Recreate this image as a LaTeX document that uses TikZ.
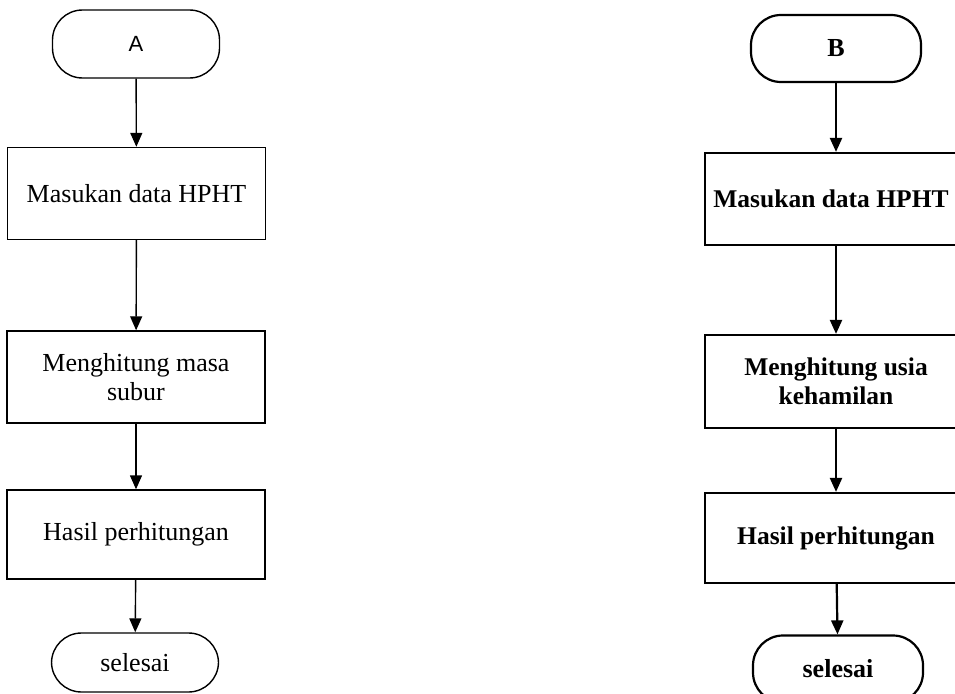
\documentclass[tikz,border=0pt]{standalone}
\usepackage{fontspec}
\setmainfont{Liberation Serif}
\newfontfamily\arialfont{Liberation Sans}
\usetikzlibrary{arrows.meta}
\begin{document}
\begin{tikzpicture}[x=1pt,y=-1pt,
  lbox/.style={draw,line width=1.4pt,minimum width=258pt,minimum height=92pt,align=center,font=\fontsize{26}{29}\selectfont,inner sep=0pt},
  lterm/.style={draw,line width=1.4pt,rounded corners=30pt,minimum width=167pt,align=center,font=\fontsize{26}{29}\selectfont,inner sep=0pt},
  rbox/.style={draw,line width=2.2pt,minimum width=262pt,minimum height=92pt,align=center,font=\bfseries\fontsize{25.5}{29}\selectfont,inner sep=0pt},
  rterm/.style={draw,line width=2.2pt,rounded corners=30pt,minimum width=170pt,minimum height=67pt,align=center,font=\bfseries\fontsize{26}{29}\selectfont,inner sep=0pt},
  larr/.style={draw,line width=1.4pt,-{Triangle[length=14pt,width=12pt]}},
  rarr/.style={draw,line width=2.2pt,-{Triangle[length=14pt,width=12pt]}}]
\useasboundingbox (0,0) rectangle (955,693);
% left flow
\node[lterm,minimum height=68pt,font=\arialfont\fontsize{22}{24}\selectfont] (A) at (136,44) {A};
\node[lbox] (L1) at (136.5,193.5) {Masukan data HPHT};
\node[lbox] (L2) at (136,377) {Menghitung masa\\subur};
\node[lbox,minimum height=89pt] (L3) at (136,534.5) {Hasil perhitungan};
\node[lterm,minimum height=59pt] (Lend) at (135,662.5) {selesai};
\draw[larr] (A) -- (L1);
\draw[larr] (L1) -- (L2);
\draw[larr] (L2) -- (L3);
\draw[larr] (L3) -- (Lend);
% right flow
\node[rterm] (B) at (836,48.5) {B};
\node[rbox] (R1) at (836,199) {Masukan data HPHT\hspace*{10pt}};
\node[rbox,minimum height=93pt] (R2) at (836,381.5) {Menghitung usia\\kehamilan};
\node[rbox,minimum height=90pt] (R3) at (836,538) {Hasil perhitungan};
\node[rterm] (Rend) at (838,669) {selesai};
\draw[rarr] (B) -- (R1);
\draw[rarr] (R1) -- (R2);
\draw[rarr] (R2) -- (R3);
\draw[rarr] (R3) -- (Rend);
\end{tikzpicture}
\end{document}
